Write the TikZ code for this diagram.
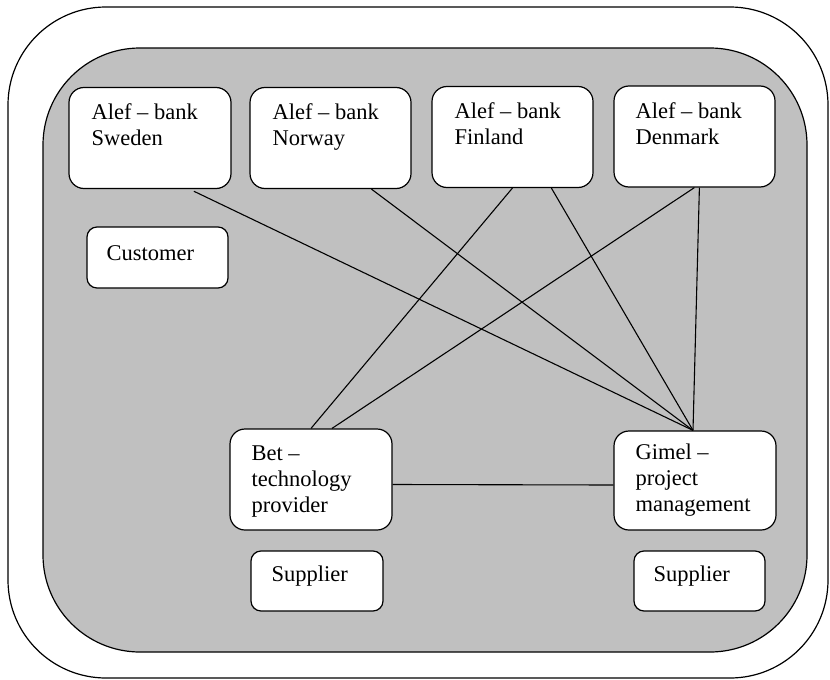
\documentclass[tikz,border=0pt]{standalone}
\usepackage{fontspec}
\setmainfont{Liberation Serif}
\usetikzlibrary{calc}
\definecolor{panelgray}{RGB}{192,192,192}
\begin{document}
\begin{tikzpicture}[x=1pt,y=-1pt,
  frame/.style={draw=black,line width=1.2pt,rounded corners=98pt},
  bigbox/.style={draw=black,fill=white,line width=1.2pt,rounded corners=15pt,
    inner sep=0pt,minimum width=162pt,minimum height=101pt},
  smallbox/.style={draw=black,fill=white,line width=1.2pt,rounded corners=10pt,
    inner sep=0pt,minimum height=61pt},
  label/.style={anchor=north west,inner sep=0pt,align=left,
    font=\fontsize{22.5pt}{26pt}\selectfont},
  link/.style={draw=black,line width=1.1pt}]
\useasboundingbox (0,0) rectangle (830,680);
% outer frame and grey panel
\draw[frame] (8,7) rectangle (828,678);
\draw[frame,fill=panelgray,rounded corners=97pt] (43,48) rectangle (807,652);

% banks
\node[bigbox] (sweden)  at (150,138) {};
\node[bigbox,minimum width=161pt] (norway)  at (330.5,138) {};
\node[bigbox,minimum width=161pt] (finland) at (512.5,137) {};
\node[bigbox,minimum width=161pt] (denmark) at (694.5,136.5) {};
% customer label
\node[smallbox,minimum width=141pt] (customer) at (157.5,257.5) {};
% partners
\node[bigbox] (bet)   at (311,479.5) {};
\node[bigbox,minimum height=99pt] (gimel) at (695,480.5) {};
\node[smallbox,minimum width=132pt,minimum height=60pt] (supA) at (317,581) {};
\node[smallbox,minimum width=131pt,minimum height=60pt] (supB) at (699.5,581) {};

% texts
\node[label] (tSweden)  at ($(sweden.north west)+(23,16.5)$)  {Alef – bank\\Sweden};
\node[label] (tNorway)  at ($(norway.north west)+(23,16.5)$)  {Alef – bank\\Norway};
\node[label] (tFinland) at ($(finland.north west)+(23,17)$)   {Alef – bank\\Finland};
\node[label] (tDenmark) at ($(denmark.north west)+(22,17.5)$) {Alef – bank\\Denmark};
\node[label] (tCust)    at ($(customer.north west)+(20,18.5)$) {Customer};
\node[label] (tBet)     at ($(bet.north west)+(22,17.5)$)     {Bet –\\technology\\provider};
\node[label] (tGimel)   at ($(gimel.north west)+(22,13)$)     {Gimel –\\project\\management};
\node[label] (tSupA)    at ($(supA.north west)+(21,15.5)$)    {Supplier};
\node[label] (tSupB)    at ($(supB.north west)+(20,15.5)$)    {Supplier};

% connections
\coordinate (gTop) at ($(gimel.north)+(-2,0)$);
\draw[link,shorten <=5pt] ($(sweden.south west)+(121,0)$) -- (gTop);
\draw[link] ($(norway.south west)+(122,0)$) -- (gTop);
\draw[link] ($(finland.south west)+(81,0)$) -- (bet.north);
\draw[link] ($(finland.south west)+(120,0)$) -- (gTop);
\draw[link] ($(denmark.south west)+(81,0)$) -- ($(bet.north)+(21,0)$);
\draw[link] ($(denmark.south west)+(86,0)$) -- (gTop);
\draw[link] ($(bet.east)+(0,5)$) -- ($(gimel.west)+(0,4.5)$);
\end{tikzpicture}
\end{document}
